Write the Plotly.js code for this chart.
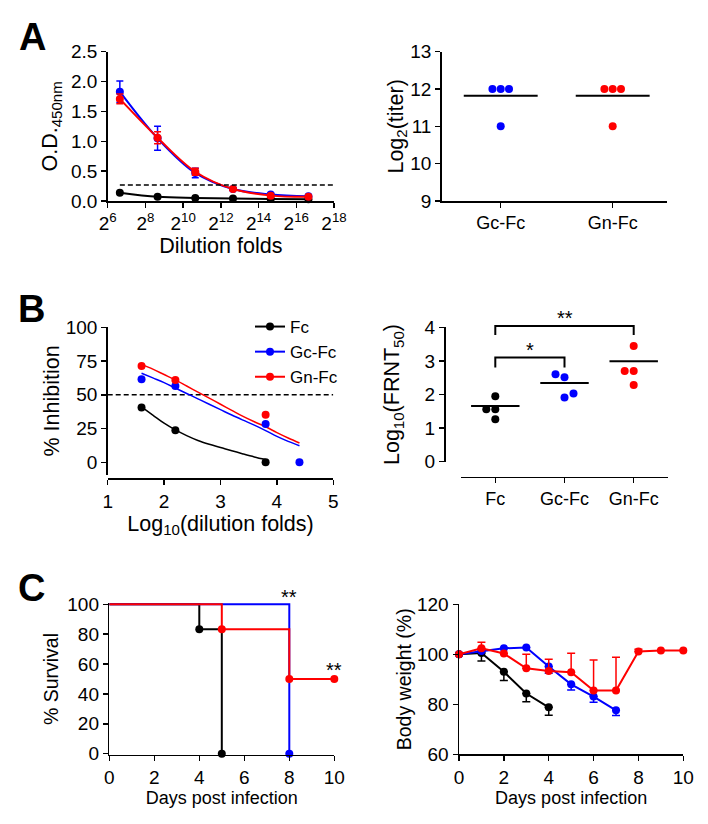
<!DOCTYPE html>
<html><head><meta charset="utf-8">
<script src="https://cdn.plot.ly/plotly-3.0.1.min.js"></script>
<style>html,body{margin:0;padding:0;background:#fff}</style>
</head><body><div id="chart" style="width:708px;height:824px"></div>
<script>
// ---------------- DATA ----------------
// Panel A (left): ELISA OD450 vs dilution folds
const dilutionFolds = [100, 400, 1600, 6400, 25600, 102400];
const elisaFc = [0.14, 0.07, 0.05, 0.04, 0.035, 0.03];
const elisaGc = [1.83, 1.05, 0.47, 0.20, 0.11, 0.08];
const elisaGcErr = [0.18, 0.20, 0.08, 0.02, 0.02, 0.01];
const elisaGn = [1.71, 1.06, 0.49, 0.20, 0.09, 0.07];
const elisaGnErr = [0.08, 0.10, 0.06, 0.02, 0.01, 0.01];
const elisaCutoff = 0.27;
const dilutionTickExp = [6, 8, 10, 12, 14, 16, 18];

// Panel A (right): Log2 titer
const titerGroups = ['Gc-Fc', 'Gn-Fc'];
const titerGc = [12, 12, 12, 11];
const titerGn = [12, 12, 12, 11];
const titerLine = [11.82, 11.82];

// Panel B (left): % inhibition vs log10 dilution
const seriesNames = ['Fc', 'Gc-Fc', 'Gn-Fc'];
const inhFcX = [1.6, 2.2, 3.8];
const inhFcY = [40.5, 23.7, 0];
const inhGcX = [1.6, 2.2, 3.8, 4.4];
const inhGcY = [61.5, 56.5, 28.4, 0];
const inhGnX = [1.6, 2.2, 3.8];
const inhGnY = [71.4, 61, 35.3];
// fitted curves
const fitFcX = [1.6, 1.8, 2.0, 2.2, 2.4, 2.6, 2.8, 3.0, 3.2, 3.4, 3.6, 3.8];
const fitFcY = [41, 35, 29, 24, 19.8, 16.2, 13.4, 11, 8.5, 6.2, 4, 2];
const fitGcX = [1.6, 1.8, 2.0, 2.2, 2.4, 2.6, 2.8, 3.0, 3.2, 3.4, 3.6, 3.8, 4.0, 4.2, 4.4];
const fitGcY = [66, 62.5, 59, 55, 51, 47, 43, 39, 35, 31.2, 27.5, 23.5, 19.2, 15.5, 12.3];
const fitGnX = [1.6, 1.8, 2.0, 2.2, 2.4, 2.6, 2.8, 3.0, 3.2, 3.4, 3.6, 3.8, 4.0, 4.2, 4.4];
const fitGnY = [72.5, 69, 65, 61, 56.5, 52, 47.5, 43, 38.5, 34, 30, 26.3, 22, 18, 14.3];
const inhCutoff = 50;

// Panel B (right): Log10(FRNT50)
const frntGroups = ['Fc', 'Gc-Fc', 'Gn-Fc'];
const frntFc = [1.95, 1.56, 1.56, 1.26];
const frntGc = [2.51, 1.91, 2.60, 2.03];
const frntGn = [3.44, 2.70, 2.70, 2.28];
const frntLine = [1.66, 2.34, 2.99];
const sigPairs = [[0, 1], [0, 2]];
const sigLabels = ['*', '**'];
const sigLow = [2.8, 3.77];
const sigHigh = [3.1, 4.04];

// Panel C (left): survival
const survFcDays = [0, 4, 5];
const survFc = [100, 83.3, 0];
const survGcDays = [0, 8];
const survGc = [100, 0];
const survGnDays = [0, 5, 8, 10];
const survGn = [100, 83.3, 50, 50];

// Panel C (right): body weight
const bwFcDays = [0, 1, 2, 3, 4];
const bwFc = [100, 100.5, 93, 84.3, 78.8];
const bwFcErr = [0, 3.2, 3.5, 3.3, 3.2];
const bwGcDays = [0, 1, 2, 3, 4, 5, 6, 7];
const bwGc = [100, 101.3, 102.4, 102.7, 95.1, 88, 83.1, 77.6];
const bwGcErr = [0, 0, 0, 0, 2.7, 2.3, 2.3, 2.1];
const bwGnDays = [0, 1, 2, 3, 4, 5, 6, 7, 8, 9, 10];
const bwGn = [100, 102.4, 100.3, 94.4, 93.3, 92.8, 85.5, 85.5, 101.1, 101.5, 101.5];
const bwGnErr = [0, 2.4, 0, 5.6, 4.7, 7.6, 12.2, 13.3, 0.9, 0, 0];

// ---------------- STYLE / LAYOUT ----------------
const W = 708, H = 824;
const F = 'Liberation Sans, Arial, sans-serif';
const BLK = '#000000', BLU = '#0000ff', RED = '#ff0000';
const cols = [BLK, BLU, RED];
const dx = (a, b) => [a / W, b / W];
const dy = (top, bottom) => [1 - bottom / H, 1 - top / H];
const zeros = n => new Array(n).fill(0);

function swarm(values, center, step, thr) {
  const placed = []; let side = -1;
  return values.map(v => {
    const hit = o => placed.some(p => Math.abs(p.o - o) < step * 0.9 && Math.abs(p.v - v) < thr);
    let off = 0;
    if (hit(0)) {
      for (let k = 1; k < 10; k++) {
        if (!hit(side * k * step)) { off = side * k * step; side = -side; break; }
        if (!hit(-side * k * step)) { off = -side * k * step; break; }
      }
    }
    placed.push({o: off, v});
    return center + off;
  });
}

const tickFont = {family: F, size: 19, color: '#000'};
const catFont = {family: F, size: 18, color: '#000'};
const titleFont = {family: F, size: 21.5, color: '#000'};
const cTitleX = {family: F, size: 18, color: '#000'};
const cTitleY = {family: F, size: 19.5, color: '#000'};
const base = {
  showline: true, linecolor: '#000', linewidth: 1.5, ticks: 'outside', ticklen: 5,
  tickwidth: 1.5, tickcolor: '#000', showgrid: false, zeroline: false,
  tickfont: tickFont, fixedrange: true
};
const A = o => Object.assign({}, base, o);

const traces = [];
const mk = (c, s) => ({color: c, size: s || 8, opacity: 1, line: {width: 0}});

// Panel A left
[[elisaFc, null, BLK], [elisaGc, elisaGcErr, BLU], [elisaGn, elisaGnErr, RED]].forEach(([y, e, c]) => {
  const t = {x: dilutionFolds, y, xaxis: 'x', yaxis: 'y', mode: 'lines+markers', showlegend: false,
    line: {color: c, width: 2, shape: 'spline'}, marker: mk(c), cliponaxis: false, hoverinfo: 'skip'};
  if (e) t.error_y = {type: 'data', array: e, visible: true, color: c, thickness: 1.5, width: 3.5};
  traces.push(t);
});
traces.push({x: [dilutionFolds[0], Math.pow(2, 18)], y: [elisaCutoff, elisaCutoff], xaxis: 'x', yaxis: 'y',
  mode: 'lines', line: {color: '#000', width: 1.5, dash: '5px,3px'}, showlegend: false, hoverinfo: 'skip'});

// Panel A right
[[titerGc, BLU], [titerGn, RED]].forEach(([vals, c], i) => {
  traces.push({x: swarm(vals, i, 0.074, 0.19), y: vals, xaxis: 'x2', yaxis: 'y2', mode: 'markers',
    marker: mk(c), showlegend: false, cliponaxis: false, hoverinfo: 'skip'});
  traces.push({x: [i - 0.33, i + 0.33], y: [titerLine[i], titerLine[i]], xaxis: 'x2', yaxis: 'y2',
    mode: 'lines', line: {color: '#000', width: 2}, showlegend: false, hoverinfo: 'skip'});
});

// Panel B left
traces.push({x: [1, 5], y: [inhCutoff, inhCutoff], xaxis: 'x3', yaxis: 'y3', mode: 'lines',
  line: {color: '#000', width: 1.5, dash: '5px,3px'}, showlegend: false, hoverinfo: 'skip'});
[[fitFcX, fitFcY, BLK], [fitGcX, fitGcY, BLU], [fitGnX, fitGnY, RED]].forEach(([x, y, c]) => {
  traces.push({x, y, xaxis: 'x3', yaxis: 'y3', mode: 'lines', line: {color: c, width: 1.5, shape: 'spline'},
    showlegend: false, hoverinfo: 'skip'});
});
[[inhFcX, inhFcY, BLK], [inhGcX, inhGcY, BLU], [inhGnX, inhGnY, RED]].forEach(([x, y, c]) => {
  traces.push({x, y, xaxis: 'x3', yaxis: 'y3', mode: 'markers', marker: mk(c), showlegend: false,
    cliponaxis: false, hoverinfo: 'skip'});
});
seriesNames.forEach((n, i) => {
  traces.push({x: [null], y: [null], xaxis: 'x3', yaxis: 'y3', name: n, mode: 'lines+markers',
    line: {color: cols[i], width: 2}, marker: mk(cols[i]), showlegend: true});
});

// Panel B right
[frntFc, frntGc, frntGn].forEach((vals, i) => {
  traces.push({x: swarm(vals, i, 0.13, 0.21), y: vals, xaxis: 'x4', yaxis: 'y4', mode: 'markers',
    marker: mk(cols[i]), showlegend: false, cliponaxis: false, hoverinfo: 'skip'});
  traces.push({x: [i - 0.35, i + 0.35], y: [frntLine[i], frntLine[i]], xaxis: 'x4', yaxis: 'y4',
    mode: 'lines', line: {color: '#000', width: 2}, showlegend: false, hoverinfo: 'skip'});
});
sigPairs.forEach(([a, b], k) => {
  traces.push({x: [a, a, b, b], y: [sigLow[k], sigHigh[k], sigHigh[k], sigLow[k]], xaxis: 'x7', yaxis: 'y7',
    mode: 'lines', line: {color: '#000', width: 2}, showlegend: false, hoverinfo: 'skip'});
});

// Panel C left
[[survFcDays, survFc, BLK], [survGcDays, survGc, BLU], [survGnDays, survGn, RED]].forEach(([x, y, c]) => {
  traces.push({x, y, xaxis: 'x5', yaxis: 'y5', mode: 'lines+markers', line: {color: c, width: 2, shape: 'hv'},
    marker: {color: c, opacity: 1, line: {width: 0}, size: x.map(d => d === 0 ? 0 : 8)},
    showlegend: false, cliponaxis: false, hoverinfo: 'skip'});
});

// Panel C right
[[bwFcDays, bwFc, bwFcErr, BLK, false], [bwGcDays, bwGc, bwGcErr, BLU, false], [bwGnDays, bwGn, bwGnErr, RED, true]]
  .forEach(([x, y, e, c, up]) => {
    traces.push({x, y, xaxis: 'x6', yaxis: 'y6', mode: 'lines+markers', line: {color: c, width: 2},
      marker: mk(c), showlegend: false, cliponaxis: false, hoverinfo: 'skip',
      error_y: {type: 'data', symmetric: false, array: up ? e : zeros(e.length), arrayminus: up ? zeros(e.length) : e,
        color: c, thickness: 1.5, width: 4}});
  });

// axes
const yBtop = 327.3, yB0 = 461.7;
const layout = {
  width: W, height: H, margin: {l: 0, r: 0, t: 0, b: 0}, paper_bgcolor: '#fff', plot_bgcolor: 'rgba(0,0,0,0)',
  font: {family: F, color: '#000'},
  xaxis: A({domain: dx(107.7, 334), anchor: 'y', type: 'log',
    range: [Math.log10(64), Math.log10(262144)],
    tickvals: dilutionTickExp.map(e => Math.pow(2, e)),
    ticktext: dilutionTickExp.map(e => '2<sup>' + e + '</sup>'),
    title: {text: 'Dilution folds', font: titleFont, standoff: 4}}),
  yaxis: A({domain: dy(51.7, 201), anchor: 'x', range: [0, 2.5], dtick: 0.5, tickformat: '.1f',
    title: {text: 'O.D.<sub>450nm</sub>', font: titleFont, standoff: 7}}),
  xaxis2: A({domain: dx(441.7, 667), anchor: 'y2', range: [-0.527, 1.485], tickvals: [0, 1], ticktext: titerGroups,
    tickfont: catFont}),
  yaxis2: A({domain: dy(51.7, 201), anchor: 'x2', range: [9, 13], dtick: 1,
    title: {text: 'Log<sub>2</sub>(titer)', font: titleFont, standoff: 0}}),
  xaxis3: A({domain: dx(107.7, 333.3), anchor: 'free', position: 1 - 478.3 / H, range: [1, 5], dtick: 1,
    title: {text: 'Log<sub>10</sub>(dilution folds)', font: titleFont, standoff: 2}}),
  yaxis3: A({domain: dy(327.3, 474.5), anchor: 'x3', range: [-9.04, 100], tickvals: [0, 25, 50, 75, 100],
    title: {text: '% Inhibition', font: titleFont, standoff: 0}}),
  xaxis4: A({domain: dx(460.7, 668.3), anchor: 'free', position: 1 - 476.7 / H, range: [-0.5, 2.5],
    tickvals: [0, 1, 2], ticktext: frntGroups, tickfont: catFont}),
  yaxis4: A({domain: dy(yBtop, yB0), anchor: 'free', position: 444 / W, range: [0, 4], dtick: 1,
    title: {text: 'Log<sub>10</sub>(FRNT<sub>50</sub>)', font: titleFont, standoff: 17}}),
  xaxis7: {domain: dx(460.7, 668.3), anchor: 'y7', range: [-0.5, 2.5], visible: false, fixedrange: true},
  yaxis7: {domain: dy(290, yB0), anchor: 'x7', range: [0, 4 * (yB0 - 290) / (yB0 - yBtop)], visible: false, fixedrange: true},
  xaxis5: A({domain: dx(109.3, 334.3), anchor: 'y5', range: [0, 10], dtick: 2,
    title: {text: 'Days post infection', font: cTitleX, standoff: 4}}),
  yaxis5: A({domain: dy(603.1, 754.9), anchor: 'x5', range: [-0.8, 100.8], tickvals: [0, 20, 40, 60, 80, 100],
    title: {text: '% Survival', font: cTitleY, standoff: 3}}),
  xaxis6: A({domain: dx(459, 683.3), anchor: 'y6', range: [0, 10], dtick: 2,
    title: {text: 'Days post infection', font: cTitleX, standoff: 4}}),
  yaxis6: A({domain: dy(604.3, 754.3), anchor: 'x6', range: [60, 120], dtick: 20,
    title: {text: 'Body weight (%)', font: cTitleY, standoff: 0}}),
  legend: {x: 250 / W, y: 1 - 309 / H, xanchor: 'left', yanchor: 'top', bgcolor: 'rgba(0,0,0,0)',
    font: {family: F, size: 17, color: '#000'}, tracegroupgap: 0},
  showlegend: true,
  annotations: [
    {text: '<b>A</b>', x: 32 / W, y: 1 - 37 / H},
    {text: '<b>B</b>', x: 31 / W, y: 1 - 309 / H},
    {text: '<b>C</b>', x: 31 / W, y: 1 - 588 / H}
  ].map(a => Object.assign(a, {xref: 'paper', yref: 'paper', xanchor: 'center', yanchor: 'middle', showarrow: false,
    font: {family: F, size: 38, color: '#000'}}))
    .concat(sigPairs.map(([a, b], k) => ({text: sigLabels[k], x: (a + b) / 2, y: sigHigh[k], xref: 'x7', yref: 'y7',
      yanchor: 'bottom', yshift: -5, showarrow: false, font: {family: F, size: 20, color: '#000'}})))
    .concat([
      {text: '**', x: survGcDays[1], y: survGc[0], xref: 'x5', yref: 'y5', yanchor: 'bottom', yshift: -6},
      {text: '**', x: survGnDays[3], y: survGn[3], xref: 'x5', yref: 'y5', yanchor: 'bottom', yshift: -4}
    ].map(a => Object.assign(a, {showarrow: false, font: {family: F, size: 20, color: '#000'}})))
};

Plotly.newPlot('chart', traces, layout, {staticPlot: true, displayModeBar: false});
</script></body></html>
